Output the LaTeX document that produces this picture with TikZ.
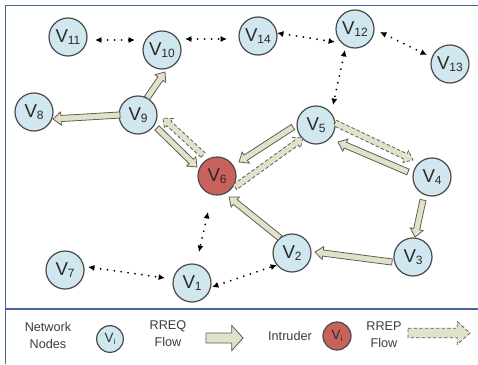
\documentclass[tikz,border=0pt]{standalone}
\usepackage{fontspec}
\setmainfont{Liberation Sans}
\usetikzlibrary{arrows.meta,calc}

\definecolor{nodefill}{HTML}{D0E7EF}
\definecolor{nodeline}{HTML}{4A4A4A}
\definecolor{intrfill}{HTML}{C9625C}
\definecolor{flowfill}{HTML}{E2E2CC}
\definecolor{flowline}{HTML}{5E5E52}
\definecolor{framecol}{HTML}{46659A}
\definecolor{legtext}{HTML}{3C3C3C}
\definecolor{labtext}{HTML}{2A2A2A}

% node label V with a lowered index
\newcommand\vlab[1]{V\kern-0.2pt\raisebox{-1.5pt}{\fontsize{9}{9}\selectfont #1}}

% geometry of the hollow flow arrows: shaft half-width, head half-width, head length
\newcommand\fsw{2.3pt}
\newcommand\fhw{4.9pt}
\newcommand\fhl{6pt}

% fat flow arrow from tail point #2 to tip point #3
\newcommand\flowarrow[3][]{%
  \coordinate (ftail) at #2;
  \coordinate (ftip) at #3;
  \coordinate (fbase) at ($(ftip)!\fhl!(ftail)$);
  \filldraw[flowshape,#1]
    ($(ftail)!\fsw!90:(ftip)$) -- ($(fbase)!\fsw!90:(ftip)$)
    -- ($(fbase)!\fhw!90:(ftip)$) -- (ftip)
    -- ($(fbase)!\fhw!-90:(ftip)$) -- ($(fbase)!\fsw!-90:(ftip)$)
    -- ($(ftail)!\fsw!-90:(ftip)$) -- cycle;
}

\tikzset{
  netnode/.style={circle, draw=nodeline, line width=0.9pt, fill=nodefill,
    minimum size=28.5pt, inner sep=0pt, text=labtext,
    font=\fontsize{14}{14}\selectfont},
  intruder/.style={netnode, fill=intrfill},
  dotlink/.style={draw=black, line width=1.5pt, line cap=round,
    dash pattern=on 0.01pt off 5.2pt,
    {Latex[length=4.8pt,width=4.6pt]}-{Latex[length=4.8pt,width=4.6pt]}},
  flowshape/.style={draw=flowline, fill=flowfill, line width=0.6pt},
  rrep/.style={dash pattern=on 2.6pt off 1.6pt},
  legendtext/.style={text=legtext, align=center,
    font=\fontsize{9.5}{12.75}\selectfont},
  framerule/.style={draw=framecol, line width=1.3pt},
}

\begin{document}
\begin{tikzpicture}[x=0.75pt,y=-0.75pt]
\useasboundingbox (0,0) rectangle (478,364);

% frame and legend separator
\draw[framerule] (478,5.5) -- (5.5,5.5) -- (5.5,364);
\draw[framerule] (5.5,309) -- (478,309);

% network nodes
\node[netnode]  (v1)  at (192,283) {\vlab{1}};
\node[netnode]  (v2)  at (292,253) {\vlab{2}};
\node[netnode]  (v3)  at (413,257) {\vlab{3}};
\node[netnode]  (v4)  at (432,177) {\vlab{4}};
\node[netnode]  (v5)  at (316,125) {\vlab{5}};
\node[intruder] (v6)  at (217,176) {\vlab{6}};
\node[netnode]  (v7)  at (65,270)  {\vlab{7}};
\node[netnode]  (v8)  at (34,112)  {\vlab{8}};
\node[netnode]  (v9)  at (138,115) {\vlab{9}};
\node[netnode]  (v10) at (162,50)  {\vlab{10}};
\node[netnode]  (v11) at (68,37)   {\vlab{11}};
\node[netnode]  (v12) at (355,29)  {\vlab{12}};
\node[netnode]  (v13) at (450,64)  {\vlab{13}};
\node[netnode]  (v14) at (258,36)  {\vlab{14}};

% neighbour links
\draw[dotlink] ($(v11)+(27,3)$)   -- ($(v10)+(-27,-10)$);
\draw[dotlink] ($(v10)+(23,-11)$) -- ($(v14)+(-31,3)$);
\draw[dotlink] ($(v14)+(19,-3)$)  -- ($(v12)+(-20,13)$);
\draw[dotlink] ($(v12)+(25,3)$)   -- ($(v13)+(-23,-9)$);
\draw[dotlink] ($(v12)+(-10,21)$) -- ($(v5)+(17,-20)$);
\draw[dotlink] ($(v6)+(-9,36)$)   -- ($(v1)+(7,-31)$);
\draw[dotlink] ($(v7)+(23,-3)$)   -- ($(v1)+(-27,-5)$);
\draw[dotlink] ($(v1)+(20,4)$)    -- ($(v2)+(-15,12)$);

% RREQ flow
\flowarrow{($(v9)+(9,-17)$)}{($(v10)+(3,22)$)}
\flowarrow{($(v9)+(-18,0)$)}{($(v8)+(19,7)$)}
\flowarrow{($(v9)+(19,13)$)}{($(v6)+(-20,-9)$)}
\flowarrow{($(v5)+(-23,2)$)}{($(v6)+(22,-14)$)}
\flowarrow{($(v4)+(-24,-5)$)}{($(v5)+(22,17)$)}
\flowarrow{($(v4)+(-9,23)$)}{($(v3)+(2,-20)$)}
\flowarrow{($(v3)+(-21,5)$)}{($(v2)+(23,-1)$)}
\flowarrow{($(v2)+(-12,-15)$)}{($(v6)+(12,21)$)}

% RREP flow
\flowarrow[rrep]{($(v6)+(-14,-21)$)}{($(v9)+(25,3)$)}
\flowarrow[rrep]{($(v6)+(18,11)$)}{($(v5)+(-13,13)$)}
\flowarrow[rrep]{($(v5)+(19,-2)$)}{($(v4)+(-19,-17)$)}

% legend
\node[legendtext] (lnet) at (48,335) {Network\\Nodes};
\node[netnode, minimum size=20pt, font=\fontsize{10}{10}\selectfont] (lnode) at (110,339)
  {V\raisebox{-1pt}{\fontsize{6}{6}\selectfont i}};
\node[legendtext] (lreq) at (168,334) {RREQ\\Flow};
\node[legendtext] (lint) at (290,336) {Intruder};
\node[intruder, minimum size=21pt, font=\fontsize{10}{10}\selectfont] (lintr) at (337,336)
  {V\raisebox{-1pt}{\fontsize{6}{6}\selectfont i}};
\node[legendtext] (lrep) at (384,335) {RREP\\Flow};

\coordinate (lq0) at (206,338);
\coordinate (lq1) at (243,338);
\coordinate (lp0) at (408,333);
\coordinate (lp1) at (470,333);
\begin{scope}
  \renewcommand\fsw{3.75pt}
  \renewcommand\fhw{9.5pt}
  \renewcommand\fhl{8.5pt}
  \flowarrow{(lq0)}{(lq1)}
  \renewcommand\fsw{3.5pt}
  \renewcommand\fhw{8.5pt}
  \renewcommand\fhl{9.5pt}
  \flowarrow[rrep]{(lp0)}{(lp1)}
\end{scope}
\end{tikzpicture}
\end{document}
